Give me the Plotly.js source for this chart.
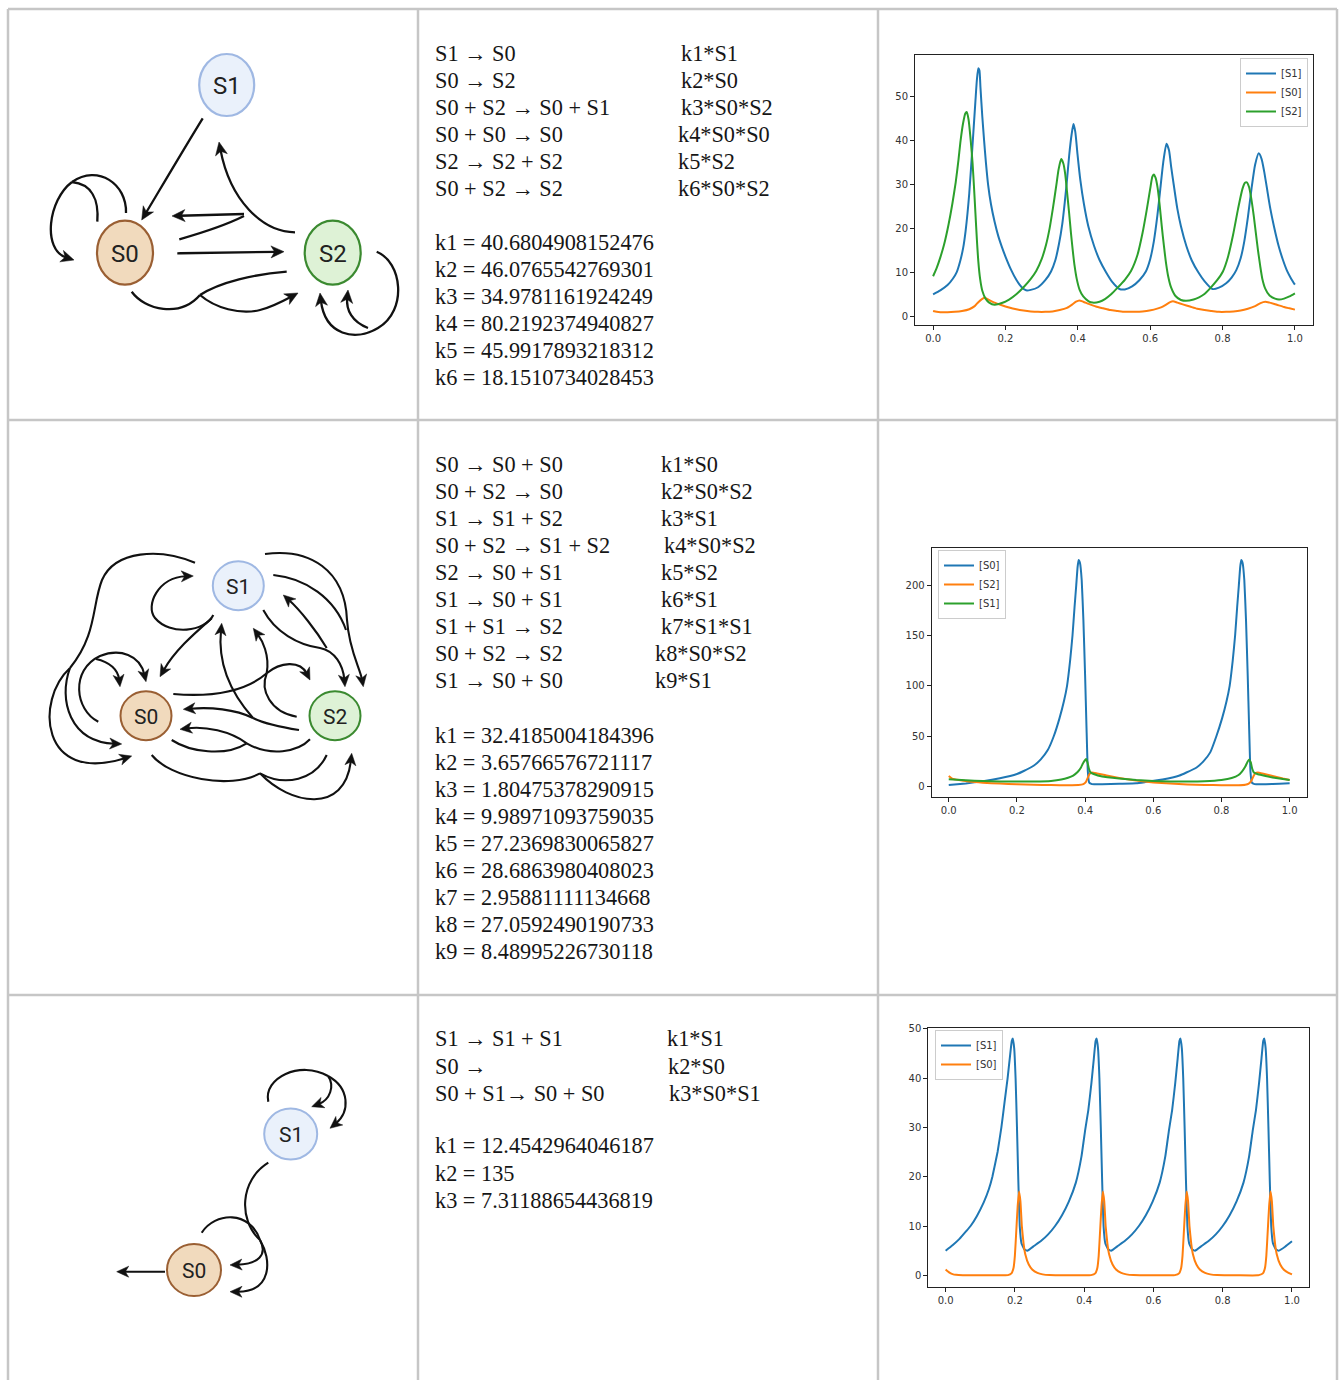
<!DOCTYPE html>
<html><head><meta charset="utf-8">
<script src="https://cdn.plot.ly/plotly-3.0.1.min.js"></script>
<style>html,body{margin:0;padding:0;background:#fff;}#fig{width:1341px;height:1380px;}</style>
</head><body><div id="fig"></div>
<script>
// ---------------- DATA ----------------
// Row 1 chart: time course (x = time, y = concentration)
const c1_S1 = [[0,5.0],[0.02,5.9],[0.04,7.1],[0.055,8.6],[0.065,10],[0.075,12.6],[0.083,15.5],[0.09,19.5],[0.1,28],[0.109,39],[0.117,49],[0.121,53.8],[0.125,56.5],[0.128,56],[0.131,52],[0.136,45.5],[0.141,40],[0.146,35],[0.152,30],[0.16,25.5],[0.17,21.5],[0.18,18.3],[0.19,15.8],[0.2,13.6],[0.216,10.5],[0.23,8.3],[0.245,6.6],[0.257,5.9],[0.27,6.0],
 [0.29,6.6],[0.31,8.2],[0.326,10.2],[0.338,12.8],[0.348,16.5],[0.357,21],[0.364,26],[0.37,31],[0.376,36.5],[0.383,41.5],[0.388,43.8],[0.393,42],[0.399,37],[0.407,31],[0.417,25.5],[0.429,20.5],[0.445,16],[0.46,12.8],[0.478,10],[0.495,7.8],[0.515,6.2],[0.53,6.1],
 [0.55,6.8],[0.57,8.2],[0.588,10.2],[0.6,13],[0.61,17],[0.62,23],[0.628,29],[0.636,35],[0.645,39.3],[0.652,37.8],[0.658,34],[0.665,30],[0.675,24.5],[0.685,20.5],[0.7,16],[0.715,12.7],[0.733,10],[0.75,8],[0.772,6.2],[0.79,6.5],
 [0.81,7.5],[0.825,8.8],[0.838,10.5],[0.85,13.2],[0.86,17],[0.87,22.5],[0.88,29],[0.89,34.5],[0.9,37.1],[0.908,35.8],[0.915,33],[0.922,29.5],[0.932,24.5],[0.942,20.5],[0.955,16],[0.967,12.8],[0.979,10.2],[0.99,8.5],[1.0,7.2]];
const c1_S0 = [[0,1.2],[0.01,1.0],[0.02,0.9],[0.04,0.9],[0.06,1.0],[0.08,1.2],[0.1,1.6],[0.115,2.3],[0.125,3.2],[0.135,3.9],[0.143,4.2],[0.155,3.7],[0.17,3.1],[0.19,2.5],[0.21,2.0],[0.23,1.6],[0.25,1.3],[0.27,1.1],[0.29,1.0],[0.31,1.0],[0.33,1.1],[0.35,1.4],[0.37,1.9],[0.385,2.7],[0.395,3.3],[0.404,3.6],[0.415,3.3],[0.43,2.8],[0.45,2.2],[0.47,1.8],[0.49,1.4],[0.51,1.2],[0.53,1.0],[0.55,1.0],[0.57,1.0],[0.59,1.2],[0.61,1.5],[0.63,2.0],[0.645,2.7],[0.655,3.2],[0.663,3.4],[0.675,3.1],[0.69,2.7],[0.71,2.2],[0.73,1.7],[0.75,1.4],[0.77,1.2],[0.79,1.0],[0.81,1.0],[0.83,1.1],[0.85,1.3],[0.87,1.7],[0.89,2.3],[0.905,3.0],[0.918,3.3],[0.93,3.1],[0.95,2.6],[0.97,2.1],[0.985,1.8],[1.0,1.5]];
const c1_S2 = [[0,9.1],[0.01,11],[0.02,13.4],[0.03,16.2],[0.043,21],[0.053,25.5],[0.0625,30.5],[0.07,35.5],[0.076,40],[0.083,44],[0.089,46.2],[0.093,46.5],[0.098,44.8],[0.104,40],[0.109,35],[0.113,29.5],[0.117,23.5],[0.121,17.5],[0.125,12.5],[0.13,8.5],[0.136,5.8],[0.145,4.0],[0.155,3.1],[0.17,2.6],
 [0.19,3.0],[0.21,3.8],[0.23,5],[0.25,6.6],[0.27,8.5],[0.285,10.3],[0.3,13],[0.312,16.2],[0.322,20],[0.331,24.5],[0.34,29.5],[0.347,33.5],[0.354,35.8],[0.36,34.8],[0.365,32.5],[0.37,28.5],[0.376,23.5],[0.381,19],[0.386,15],[0.391,11.5],[0.397,8.5],[0.405,6],[0.415,4.5],[0.43,3.4],[0.441,3.1],
 [0.46,3.3],[0.475,3.9],[0.492,5],[0.51,6.5],[0.53,8.3],[0.547,10.3],[0.565,14],[0.579,19],[0.59,24],[0.6,29],[0.606,31.8],[0.61,32.3],[0.615,31.5],[0.62,29.5],[0.626,25.5],[0.632,20.5],[0.638,16],[0.644,12],[0.65,9],[0.658,6.5],[0.67,4.6],[0.685,3.7],[0.699,3.5],
 [0.72,3.8],[0.735,4.3],[0.749,5],[0.765,6.3],[0.785,8.2],[0.801,10.2],[0.815,13.5],[0.829,18.5],[0.843,24.5],[0.855,29],[0.862,30.4],[0.867,30.5],[0.873,29.5],[0.879,27],[0.886,23],[0.892,19],[0.898,15],[0.904,11.5],[0.91,8.5],[0.918,6.3],[0.93,4.7],[0.945,4.0],[0.956,3.8],[0.97,4.0],[0.985,4.5],[1.0,5.2]];

// Row 2 chart
const c2_S0 = [[0,1.7],[0.05,3.2],[0.1,5.3],[0.15,8.3],[0.2,12.5],[0.22,15.5],[0.25,21],[0.27,27],[0.29,36],[0.308,50],[0.325,68],[0.338,85],[0.347,100],[0.356,125],[0.363,150],[0.369,178],[0.374,200],[0.378,218],[0.381,225],[0.385,222],[0.39,205],[0.395,165],[0.4,110],[0.404,60],[0.408,15],[0.412,4],[0.42,2.5],[0.45,2.3],[0.5,2.8],
 [0.55,3.3],[0.577,4.5],[0.627,7],[0.677,11],[0.697,14],[0.727,19],[0.747,25],[0.767,34],[0.785,50],[0.802,68],[0.815,85],[0.824,100],[0.833,125],[0.84,150],[0.846,178],[0.851,200],[0.855,218],[0.858,225],[0.862,222],[0.867,205],[0.872,165],[0.877,110],[0.881,60],[0.885,15],[0.889,4],[0.897,2.5],[0.93,2.4],[0.97,2.8],[1.0,3.3]];
const c2_S2 = [[0,10.6],[0.01,8],[0.03,6.5],[0.06,5],[0.1,3.9],[0.15,3.0],[0.2,2.4],[0.25,1.9],[0.3,1.5],[0.35,1.3],[0.38,1.5],[0.395,2.5],[0.402,4.5],[0.408,9],[0.413,12.5],[0.42,14],[0.435,13],[0.45,12],[0.5,8.5],[0.55,6],[0.6,4.2],[0.65,3.0],[0.7,2.2],[0.75,1.7],[0.8,1.4],[0.85,1.3],[0.87,1.8],[0.88,3],[0.888,6],[0.895,11],[0.9,13.5],[0.907,14],[0.92,13],[0.95,10.5],[0.98,8],[1.0,6.5]];
const c2_S1 = [[0,7.3],[0.05,6.3],[0.1,5.6],[0.15,5.2],[0.2,5.0],[0.25,5.1],[0.3,5.7],[0.33,7],[0.35,8.8],[0.365,11],[0.378,14.5],[0.388,19],[0.395,24],[0.403,27.4],[0.407,24],[0.411,18],[0.416,14],[0.425,12.5],[0.45,10],[0.5,8],[0.55,6.5],[0.6,5.6],[0.65,5.2],[0.7,5.1],[0.75,5.4],[0.8,6.6],[0.83,8.5],[0.85,11.5],[0.86,15],[0.87,20],[0.877,25],[0.881,27],[0.886,24],[0.89,18],[0.895,14],[0.905,12.5],[0.92,11.2],[0.95,9],[1.0,6.6]];

// Row 3 chart
const c3_S1 = [[0,5.0],[0.02,6.1],[0.04,7.4],[0.06,9.0],[0.072,10],[0.09,12],[0.11,14.8],[0.125,17.5],[0.135,20],[0.15,25],[0.161,30],[0.17,35],[0.179,40],[0.186,44.5],[0.191,47.5],[0.194,48],[0.198,46],[0.202,40],[0.206,30],[0.21,19],[0.214,10],[0.219,6.5],[0.227,5.3],[0.236,5.0],
 [0.256,6.0],[0.276,7.0],[0.296,8.3],[0.316,10],[0.336,12.2],[0.356,15],[0.376,18.8],[0.392,24],[0.403,29.5],[0.412,33.5],[0.421,39],[0.428,44],[0.433,47.5],[0.436,48],[0.44,46],[0.444,40],[0.448,30],[0.452,19],[0.456,10],[0.461,6.5],[0.469,5.3],[0.478,5.0],
 [0.498,6.0],[0.518,7.0],[0.538,8.3],[0.558,10],[0.578,12.2],[0.598,15],[0.618,18.8],[0.634,24],[0.645,29.5],[0.654,33.5],[0.663,39],[0.670,44],[0.675,47.5],[0.678,48],[0.682,46],[0.686,40],[0.690,30],[0.694,19],[0.698,10],[0.703,6.5],[0.711,5.3],[0.720,5.0],
 [0.740,6.0],[0.760,7.0],[0.780,8.3],[0.800,10],[0.820,12.2],[0.840,15],[0.860,18.8],[0.876,24],[0.887,29.5],[0.896,33.5],[0.905,39],[0.912,44],[0.917,47.5],[0.920,48],[0.924,46],[0.928,40],[0.932,30],[0.936,19],[0.940,10],[0.945,6.5],[0.953,5.3],[0.962,5.0],[0.98,5.8],[1.0,6.9]];
const c3_S0 = [[0,1.2],[0.01,0.6],[0.02,0.25],[0.03,0.1],[0.05,0.02],[0.1,0],[0.15,0],[0.18,0.05],[0.19,0.4],[0.196,1.5],[0.2,4],[0.204,9],[0.208,14],[0.212,17],[0.216,15],[0.22,10],[0.225,6.5],[0.23,4.3],[0.24,2.2],[0.25,1.2],[0.265,0.5],[0.28,0.2],[0.3,0.05],[0.35,0],
 [0.4,0],[0.42,0.05],[0.432,0.4],[0.438,1.5],[0.442,4],[0.446,9],[0.45,14],[0.454,17],[0.458,15],[0.462,10],[0.467,6.5],[0.472,4.3],[0.482,2.2],[0.492,1.2],[0.507,0.5],[0.522,0.2],[0.542,0.05],[0.6,0],
 [0.65,0],[0.662,0.05],[0.674,0.4],[0.68,1.5],[0.684,4],[0.688,9],[0.692,14],[0.696,17],[0.7,15],[0.704,10],[0.709,6.5],[0.714,4.3],[0.724,2.2],[0.734,1.2],[0.749,0.5],[0.764,0.2],[0.784,0.05],[0.85,0],
 [0.9,0],[0.904,0.05],[0.916,0.4],[0.922,1.5],[0.926,4],[0.93,9],[0.934,14],[0.938,17],[0.942,15],[0.946,10],[0.951,6.5],[0.956,4.3],[0.966,2.2],[0.976,1.2],[0.99,0.5],[1.0,0.2]];

// Text of the middle column
const rx1 = ["S1 \u2192 S0","S0 \u2192 S2","S0 + S2 \u2192 S0 + S1","S0 + S0 \u2192 S0","S2 \u2192 S2 + S2","S0 + S2 \u2192 S2"];
const rate1 = ["k1*S1","k2*S0","k3*S0*S2","k4*S0*S0","k5*S2","k6*S0*S2"];
const par1 = ["k1 = 40.6804908152476","k2 = 46.0765542769301","k3 = 34.9781161924249","k4 = 80.2192374940827","k5 = 45.9917893218312","k6 = 18.1510734028453"];
const rx2 = ["S0 \u2192 S0 + S0","S0 + S2 \u2192 S0","S1 \u2192 S1 + S2","S0 + S2 \u2192 S1 + S2","S2 \u2192 S0 + S1","S1 \u2192 S0 + S1","S1 + S1 \u2192 S2","S0 + S2 \u2192 S2","S1 \u2192 S0 + S0"];
const rate2 = ["k1*S0","k2*S0*S2","k3*S1","k4*S0*S2","k5*S2","k6*S1","k7*S1*S1","k8*S0*S2","k9*S1"];
const par2 = ["k1 = 32.4185004184396","k2 = 3.65766576721117","k3 = 1.80475378290915","k4 = 9.98971093759035","k5 = 27.2369830065827","k6 = 28.6863980408023","k7 = 2.95881111134668","k8 = 27.0592490190733","k9 = 8.48995226730118"];
const rx3 = ["S1 \u2192 S1 + S1","S0 \u2192","S0 + S1\u2192 S0 + S0"];
const rate3 = ["k1*S1","k2*S0","k3*S0*S1"];
const par3 = ["k1 = 12.4542964046187","k2 = 135","k3 = 7.31188654436819"];

// ---------------- LAYOUT HELPERS ----------------
const W = 1341, H = 1380;
const shapes = [], annotations = [];
const OV = {xref:'x4', yref:'y4'};
function f(v){return (+v).toFixed(2);}
function addPath(d, w, color){shapes.push(Object.assign({type:'path', path:d, line:{color:color||'#111', width:w}, fillcolor:'rgba(0,0,0,0)', layer:'above'}, OV));}
function addHead(tip, u, L, Wd){
  const b=[tip[0]-u[0]*L, tip[1]-u[1]*L], n=[-u[1],u[0]], m=[tip[0]-u[0]*L*0.72, tip[1]-u[1]*L*0.72];
  const d=`M ${f(tip[0])} ${f(tip[1])} L ${f(b[0]+n[0]*Wd)} ${f(b[1]+n[1]*Wd)} L ${f(m[0])} ${f(m[1])} L ${f(b[0]-n[0]*Wd)} ${f(b[1]-n[1]*Wd)} Z`;
  shapes.push(Object.assign({type:'path', path:d, fillcolor:'#111', line:{color:'#111', width:0.5}, layer:'above'}, OV));
}
function edge(e, lw, L, Wd){
  const p = e.p.map(a=>a.slice());
  if(e.a){
    const tip=p[p.length-1], c=p[p.length-2];
    let dx=tip[0]-c[0], dy=tip[1]-c[1]; const n=Math.hypot(dx,dy); dx/=n; dy/=n;
    p[p.length-1]=[tip[0]-dx*L*0.6, tip[1]-dy*L*0.6];
    addHead(tip,[dx,dy],L,Wd);
  }
  let d='M '+f(p[0][0])+' '+f(p[0][1]);
  for(let i=1;i+2<p.length;i+=3) d+=' C '+[p[i],p[i+1],p[i+2]].map(q=>f(q[0])+' '+f(q[1])).join(' ');
  addPath(d, lw);
}
const nodeStyle = {
  S1:{fill:'#eaf1fb', line:'#9fb8e3'},
  S0:{fill:'#f1dabd', line:'#9a5f33'},
  S2:{fill:'#def2d6', line:'#3b8a30'}
};
function node(name, c, fs, lw){
  const s=nodeStyle[name];
  shapes.push(Object.assign({type:'circle', x0:c[0]-c[2], x1:c[0]+c[2], y0:c[1]-c[3], y1:c[1]+c[3], fillcolor:s.fill, line:{color:s.line, width:lw}, layer:'above'}, OV));
  annotations.push(Object.assign({x:c[0], y:c[1]+1, text:name, showarrow:false, xanchor:'center', yanchor:'middle', font:{family:'Roboto', size:fs, color:'#222'}}, OV));
}
function txt(x, y, s){
  annotations.push(Object.assign({x:x, y:y, text:s, showarrow:false, xanchor:'left', yanchor:'middle', font:{family:'Liberation Serif', size:22.3, color:'#161616'}}, OV));
}

// ---------------- TABLE GRID ----------------
const gridCol = '#c6c6c6';
[[8,9,1337,9],[8,420,1337,420],[8,995,1337,995],[8,9,8,1380],[418,9,418,1380],[878,9,878,1380],[1337,9,1337,1380]].forEach(l=>{
  shapes.push(Object.assign({type:'line', x0:l[0], y0:l[1], x1:l[2], y1:l[3], line:{color:gridCol, width:2.5}, layer:'below'}, OV));
});

// ---------------- DIAGRAM 1 ----------------
const edges1 = [
 {p:[[202.7,118.3],[182,152],[162,186],[141.7,220]], a:1},
 {p:[[126,213],[127,184],[98,164],[72,182]]},
 {p:[[97.3,221.7],[99,200],[92,184],[72,182]]},
 {p:[[72,182],[48,200],[42,250],[74,260]], a:1},
 {p:[[177.3,253.3],[213,252.8],[249,252.2],[284,251.7]], a:1},
 {p:[[179.3,239.3],[205,232],[228,224],[244,216]]},
 {p:[[244,214],[220,214.7],[196,215.3],[172,216]], a:1},
 {p:[[295,232.3],[262,232],[230,200],[219,142]], a:1},
 {p:[[131.7,291.7],[145,310],[180,318],[200,295]]},
 {p:[[286.7,271.7],[255,274],[220,282],[200,295]]},
 {p:[[200,295],[215,308],[240,315],[260,310],[272,307],[285,300],[298,293]], a:1},
 {p:[[376.7,251.7],[402,262],[408,310],[378,328],[355,342],[325,335],[320,293]], a:1},
 {p:[[368,328],[352,322],[346,310],[348,290]], a:1}
];
edges1.forEach(e=>edge(e, 2.3, 13, 6));
node('S1',[226.7,85,27.5,31],24,2.2);
node('S0',[125,252.7,28,32],24,2.2);
node('S2',[332.7,252.7,28,32],24,2.2);

// ---------------- DIAGRAM 2 ----------------
const edges2 = [
 {p:[[195,562.7],[160,548],[115,550],[102,580],[92,605],[97,635],[70,668]]},
 {p:[[70,668],[58,700],[70,742],[121.7,744]], a:1},
 {p:[[70,668],[35,700],[40,785],[131.7,756]], a:1},
 {p:[[98.3,721.7],[75,710],[70,670],[100,656],[120,648],[140,655],[146,681.7]], a:1},
 {p:[[96,659],[110,662],[118,670],[120,686.7]], a:1},
 {p:[[213.3,615],[205,632],[170,636],[155,618],[145,606],[158,577],[193.3,576]], a:1},
 {p:[[211.7,618.3],[195,633],[175,650],[160,676.7]], a:1},
 {p:[[173.3,694],[210,697],[245,692],[266.7,673.3]]},
 {p:[[266.7,673.3],[280,662],[300,660],[310,680]], a:1},
 {p:[[296.7,716.7],[270,712],[260,690],[266.7,673.3]]},
 {p:[[266.7,673.3],[270,655],[262,640],[253.3,628.3]], a:1},
 {p:[[299,730],[280,727],[265,724],[253,718]]},
 {p:[[253,718],[235,709],[210,707],[183.3,709.3]], a:1},
 {p:[[253,718],[228,690],[218,660],[221.7,623.3]], a:1},
 {p:[[171.7,740],[190,752],[225,757],[246.7,743.3]]},
 {p:[[310,739.3],[298,752],[270,757],[246.7,743.3]]},
 {p:[[246.7,743.3],[230,731],[205,726],[180,729.3]], a:1},
 {p:[[151.7,755],[170,778],[230,790],[260,773.3]]},
 {p:[[326.7,755],[315,780],[285,787],[260,773.3]]},
 {p:[[260,773.3],[290,805],[345,815],[351.7,753.3]], a:1},
 {p:[[265,554],[310,548],[345,570],[347,620],[349,650],[360,668],[363.3,686.7]], a:1},
 {p:[[273.3,575],[305,578],[335,598],[346,630]]},
 {p:[[263.3,610],[275,632],[298,645],[320,648],[335,651],[343,665],[345,686.7]], a:1},
 {p:[[326.7,648],[316,630],[300,610],[283.3,595]], a:1}
];
edges2.forEach(e=>edge(e, 2.1, 12, 5.5));
node('S1',[238.3,585.7,25.5,24.5],21,2);
node('S0',[146,715.7,25.5,24.5],21,2);
node('S2',[335,715.7,25.5,24.5],21,2);

// ---------------- DIAGRAM 3 ----------------
const edges3 = [
 {p:[[268.3,1101.7],[263,1078],[300,1060],[328,1076]]},
 {p:[[328,1076],[335,1086],[330,1100],[311.7,1106.7]], a:1},
 {p:[[328,1076],[350,1088],[350,1112],[330,1128.3]], a:1},
 {p:[[165,1271.7],[149,1271.7],[133,1271.7],[116.7,1271.7]], a:1},
 {p:[[268.3,1162.7],[240,1180],[238,1220],[260,1240]]},
 {p:[[201.7,1232.7],[215,1212],[250,1210],[260,1240]]},
 {p:[[260,1240],[268,1255],[258,1264],[230,1265]], a:1},
 {p:[[260,1240],[272,1260],[272,1292],[230,1291.7]], a:1}
];
edges3.forEach(e=>edge(e, 2.1, 12, 5.5));
node('S1',[290.7,1134,26.5,25.5],21,2);
node('S0',[194,1270,27,26],21,2);

// ---------------- TEXT COLUMN ----------------
const rxX = 433;
const rateX1 = [679,679,679,676,676,676];
const rateX2 = [659,659,659,662,659,659,659,653,653];
const rateX3 = [665,666,667];
rx1.forEach((s,i)=>{txt(rxX, 53.5+27*i, s); txt(rateX1[i], 53.5+27*i, rate1[i]);});
par1.forEach((s,i)=>txt(rxX, 242.5+27*i, s));
rx2.forEach((s,i)=>{txt(rxX, 464.2+27.07*i, s); txt(rateX2[i], 464.2+27.07*i, rate2[i]);});
par2.forEach((s,i)=>txt(rxX, 735.2+27.06*i, s));
rx3.forEach((s,i)=>{txt(rxX, 1038.7+27.3*i, s); txt(rateX3[i], 1038.7+27.3*i, rate3[i]);});
par3.forEach((s,i)=>txt(rxX, 1145.8+27.5*i, s));

// ---------------- CHARTS ----------------
function dxp(a,b){return [a/W, b/W];}
function dyp(top,bot){return [1-bot/H, 1-top/H];}
const tickFont = {family:'DejaVu Sans', size:10, color:'#333'};
const axBase = {showline:true, mirror:true, linecolor:'#222', linewidth:1, ticks:'outside', ticklen:4, tickwidth:1, tickcolor:'#222', showgrid:false, zeroline:false, tickfont:tickFont, fixedrange:true};
const xTicks = {tickmode:'linear', tick0:0, dtick:0.2, tickformat:'.1f', range:[-0.05,1.05]};
const C = {blue:'#1f77b4', orange:'#ff7f0e', green:'#2ca02c'};
function tr(pairs, name, color, xa, ya, lg, sm){
  return {type:'scatter', mode:'lines', x:pairs.map(p=>p[0]), y:pairs.map(p=>p[1]), name:name, xaxis:xa, yaxis:ya, legend:lg,
          line:{color:color, width:2, shape:'spline', smoothing:sm}, hoverinfo:'skip'};
}
const traces = [
  tr(c1_S1,'[S1]',C.blue,'x','y','legend',0.6),
  tr(c1_S0,'[S0]',C.orange,'x','y','legend',0.6),
  tr(c1_S2,'[S2]',C.green,'x','y','legend',0.6),
  tr(c2_S0,'[S0]',C.blue,'x2','y2','legend2',0.35),
  tr(c2_S2,'[S2]',C.orange,'x2','y2','legend2',0.35),
  tr(c2_S1,'[S1]',C.green,'x2','y2','legend2',0.35),
  tr(c3_S1,'[S1]',C.blue,'x3','y3','legend3',0.35),
  tr(c3_S0,'[S0]',C.orange,'x3','y3','legend3',0.35),
  {type:'scatter', mode:'lines', x:[], y:[], xaxis:'x4', yaxis:'y4', showlegend:false, hoverinfo:'skip'}
];
const legBase = {bgcolor:'rgba(255,255,255,0.85)', bordercolor:'#cccccc', borderwidth:1, font:{family:'DejaVu Sans', size:10, color:'#333'}, xanchor:'left', yanchor:'top', tracegroupgap:0, itemwidth:30};
const layout = {
  width:W, height:H, margin:{l:0,r:0,t:0,b:0}, paper_bgcolor:'#ffffff', plot_bgcolor:'rgba(0,0,0,0)', showlegend:true,
  xaxis: Object.assign({}, axBase, xTicks, {domain:dxp(915,1313), anchor:'y'}),
  yaxis: Object.assign({}, axBase, {domain:dyp(55,325), anchor:'x', range:[-2,59.5], tickmode:'linear', tick0:0, dtick:10}),
  xaxis2: Object.assign({}, axBase, xTicks, {domain:dxp(931.7,1306.7), anchor:'y2'}),
  yaxis2: Object.assign({}, axBase, {domain:dyp(548.3,796.7), anchor:'x2', range:[-10,236.5], tickmode:'linear', tick0:0, dtick:50}),
  xaxis3: Object.assign({}, axBase, xTicks, {domain:dxp(928.3,1309.3), anchor:'y3'}),
  yaxis3: Object.assign({}, axBase, {domain:dyp(1027.7,1286.7), anchor:'x3', range:[-2.3,50.2], tickmode:'linear', tick0:0, dtick:10}),
  xaxis4: {domain:[0,1], range:[0,W], visible:false, anchor:'y4', fixedrange:true, showgrid:false, zeroline:false},
  yaxis4: {domain:[0,1], range:[H,0], visible:false, anchor:'x4', fixedrange:true, showgrid:false, zeroline:false},
  legend: Object.assign({}, legBase, {x:1240/W, y:1-58/H}),
  legend2: Object.assign({}, legBase, {x:938/W, y:1-550/H}),
  legend3: Object.assign({}, legBase, {x:935/W, y:1-1030/H}),
  shapes: shapes, annotations: annotations
};
Plotly.newPlot('fig', traces, layout, {displayModeBar:false, staticPlot:true});
</script></body></html>
